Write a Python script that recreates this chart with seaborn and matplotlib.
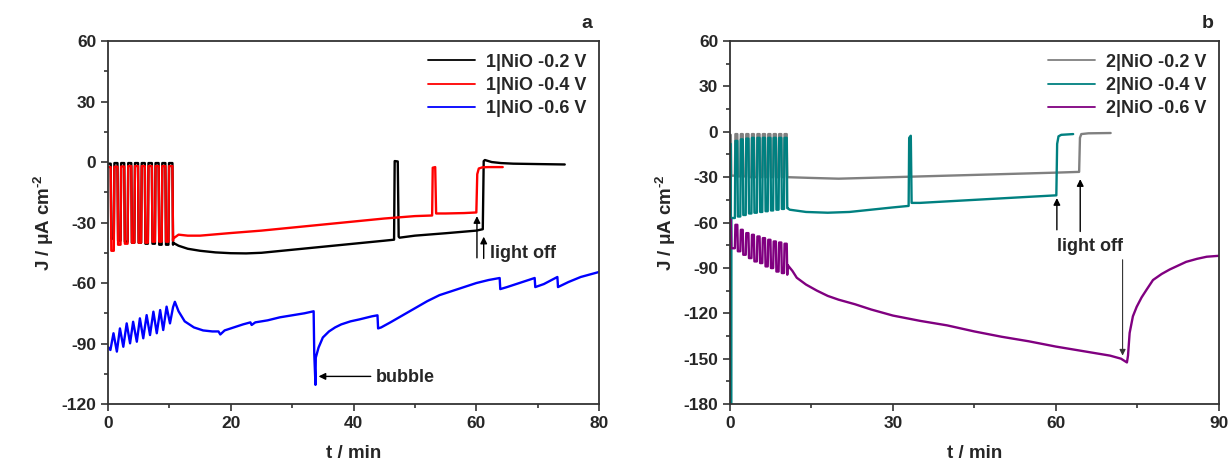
import numpy as np
import pandas as pd
import matplotlib
matplotlib.use('Agg')
import matplotlib.pyplot as plt
import seaborn as sns

# ---------------- data ----------------
# panel a: chopped-light phase (light on = fall, light off = rise), minutes
a_falls = [0.5, 1.6, 2.7, 3.85, 4.95, 6.05, 7.2, 8.3, 9.4, 10.55]
a_rises = [1.0, 2.1, 3.25, 4.35, 5.45, 6.55, 7.7, 8.8, 9.9]

black_tops = [-0.8, -0.5, -0.5, -0.5, -0.5, -0.5, -0.5, -0.5, -0.5, -0.5]
black_bots = [-38, -39, -39.5, -40, -40, -40.5, -40.5, -41, -41, -41]
red_tops = [-2.5, -2.3, -2.2, -2.0, -2.0, -2.0, -2.0, -2.0, -2.0, -2.0]
red_bots = [-44, -41, -40.5, -40, -40, -40, -39.5, -39.5, -39.5, -39]

black_t = [10.6, 11.5, 13, 15, 17.5, 20, 22.5, 25, 30, 35, 40, 45, 46.6, 46.7,
           47.2, 47.35, 47.5, 50, 55, 60, 61.05, 61.2, 61.4, 62.5, 64, 66, 70, 74.4]
black_J = [-40, -41.5, -43, -44, -44.8, -45.2, -45.3, -45, -43.5, -42, -40.5, -39,
           -38.5, 0.5, 0.3, -37, -37.5, -36.5, -35.3, -34, -33.3, 0.5, 1.0, 0, -0.5,
           -0.8, -1.0, -1.2]

red_t = [10.6, 11.5, 13, 15, 20, 25, 30, 35, 40, 45, 50, 52.8, 52.9, 53.3, 53.45,
         55, 58, 60.0, 60.15, 60.4, 61, 62, 64.3]
red_J = [-38, -36, -36.5, -36.5, -35.2, -34, -32.5, -31, -29.5, -28, -26.8, -26.5,
         -2.8, -2.5, -25.5, -25.5, -25.3, -25, -6, -3.2, -2.6, -2.5, -2.5]

blue_t = [0.0, 0.4, 0.9, 1.45, 1.95, 2.5, 3.05, 3.6, 4.1, 4.7, 5.2, 5.75, 6.3,
          6.85, 7.4, 7.95, 8.5, 9.0, 9.55, 10.1, 10.6, 10.9, 11.5, 12.5, 14, 15.5,
          17, 18, 18.3, 19, 20, 22, 23.2, 23.4, 24, 26, 28, 30, 32, 33.5, 33.6,
          33.8, 33.85, 34.3, 35, 36, 37, 38, 39.5, 41, 43, 43.9, 44.0, 44.5, 46,
          48, 50, 52, 54, 56, 58, 60, 62, 63.8, 63.9, 65, 67, 69.5, 69.6, 71,
          73.2, 73.3, 75, 77, 80]
blue_J = [-91.7, -93.2, -84.9, -94, -82.5, -91.6, -80, -89.9, -79.2, -89.1,
          -77.5, -87.4, -75.9, -85.8, -74.2, -84.9, -73.4, -83.3, -71.7, -80,
          -72, -69.3, -74, -79, -82, -83.5, -84, -84, -85.5, -83.5, -82.5,
          -80.5, -79.5, -80.8, -79.5, -78.5, -77, -76, -75, -74, -95, -110.5,
          -97, -92, -87, -84, -82, -80.5, -79, -78, -76.5, -76, -82.5, -82,
          -79.5, -76, -72.5, -69, -66, -64, -62, -60, -58.5, -57.5, -63, -62,
          -60, -57.5, -62, -60.5, -57, -62, -59.5, -57, -54.5]

# panel b: chopped-light phase
b_falls = [0.2, 1.4, 2.4, 3.45, 4.45, 5.5, 6.5, 7.5, 8.5, 9.5, 10.5]
b_rises = [0.95, 1.95, 2.95, 4.0, 5.0, 6.0, 7.0, 8.0, 9.0, 10.0]

gray_tops = [-2, -1.5, -1.5, -1.5, -1.5, -1.5, -1.5, -1.5, -1.5, -1.5, -1.5]
gray_bots = [-29, -29.5, -29.5, -30, -30, -30, -30, -30, -30, -30, -30]
teal_tops = [-8, -6, -5, -4.5, -4, -4, -4, -4, -4, -4, -4]
teal_bots = [-57, -56, -55, -54, -53.5, -53, -52.5, -52, -51.5, -51, -50.5]
purple_tops = [-58, -61.5, -64.8, -67, -68.1, -69.2, -70.3, -71.4, -72.5, -73.2, -74]
purple_bots = [-77, -79, -81.3, -83.5, -85.7, -86.8, -89, -90.1, -92.4, -93.4, -94.5]

teal_spike_t = [0.2]
teal_spike_J = [-186]

gray_t = [10.6, 15, 20, 25, 30, 35, 40, 45, 50, 55, 60, 64.3, 64.45, 64.7, 66, 70.1]
gray_J = [-30, -30.5, -31, -30.5, -30, -29.5, -29, -28.5, -28, -27.5, -27, -26.5,
          -4, -1.5, -1.0, -0.8]

teal_t = [10.6, 11, 12, 14, 18, 22, 26, 30, 32.9, 33.0, 33.3, 33.45, 35, 40, 45,
          50, 55, 60.1, 60.25, 60.5, 61, 63.2]
teal_J = [-50.5, -51.5, -52, -53, -53.5, -53, -51.5, -50, -49, -4, -2.6, -47,
          -47, -46, -45, -44, -43, -42, -8, -3, -2, -1.5]

purple_t = [10.6, 11.5, 12.3, 14, 16, 18, 20, 23, 26, 30, 35, 40, 45, 50, 55, 60,
            65, 70, 72, 73.1, 73.3, 73.6, 74.2, 74.9, 75.8, 76.7, 77.9, 79.5, 81,
            82.5, 84, 86, 87.8, 90]
purple_J = [-88, -92, -96.5, -101, -105, -108.5, -111, -114, -117.5, -121.5, -125,
            -128, -132, -135.5, -138.5, -142, -145, -148, -150, -152.5, -148, -133,
            -122, -115.7, -109.5, -104.5, -98, -94, -91, -88.5, -86, -84, -82.6, -82]

labels_a = ['1|NiO -0.2 V', '1|NiO -0.4 V', '1|NiO -0.6 V']
labels_b = ['2|NiO -0.2 V', '2|NiO -0.4 V', '2|NiO -0.6 V']
colors_a = ['#000000', '#ff0000', '#0000ff']
colors_b = ['#808080', '#008080', '#800080']


def chop_path(falls, rises, tops, bots, w=0.05):
    # step path through the read top/bottom levels of each light cycle
    t, j = [0.0], [tops[0]]
    for k, tf in enumerate(falls):
        t += [tf - w, tf + w]
        j += [tops[k], bots[k]]
        if k < len(rises):
            t += [rises[k] - w, rises[k] + w]
            j += [bots[k], tops[k + 1]]
    return t, j


def series(label, t, j):
    return pd.DataFrame({'t': t, 'J': j, 'series': label})


bt, bj = chop_path(a_falls, a_rises, black_tops, black_bots)
rt, rj = chop_path(a_falls, a_rises, red_tops, red_bots)
df_a = pd.concat([
    series(labels_a[0], bt + black_t, bj + black_J),
    series(labels_a[1], rt + red_t, rj + red_J),
    series(labels_a[2], blue_t, blue_J),
], ignore_index=True)

gt, gj = chop_path(b_falls, b_rises, gray_tops, gray_bots)
tt, tj = chop_path(b_falls, b_rises, teal_tops, teal_bots)
pt, pj = chop_path(b_falls, b_rises, purple_tops, purple_bots)
teal_df = series(labels_b[1], tt + teal_spike_t + teal_t, tj + teal_spike_J + teal_J)
teal_df = teal_df.sort_values('t')
df_b = pd.concat([
    series(labels_b[0], gt + gray_t, gj + gray_J),
    teal_df,
    series(labels_b[2], pt + purple_t, pj + purple_J),
], ignore_index=True)

# ---------------- style ----------------
sns.set_style('ticks')
plt.rcParams['font.family'] = ['Liberation Sans', 'DejaVu Sans']
plt.rcParams['font.weight'] = 'bold'
plt.rcParams['axes.labelweight'] = 'bold'
plt.rcParams['axes.unicode_minus'] = False
plt.rcParams['mathtext.fontset'] = 'custom'
plt.rcParams['mathtext.rm'] = 'Liberation Sans:bold'
plt.rcParams['mathtext.bf'] = 'Liberation Sans:bold'
plt.rcParams['mathtext.default'] = 'bf'

fig = plt.figure(figsize=(12.31, 4.72), dpi=100)
ax_a = fig.add_axes([0.0877, 0.144, 0.399, 0.769])
ax_b = fig.add_axes([0.593, 0.144, 0.397, 0.769])

for ax, df, labels, colors in [(ax_a, df_a, labels_a, colors_a),
                               (ax_b, df_b, labels_b, colors_b)]:
    sns.lineplot(data=df, x='t', y='J', hue='series', hue_order=labels,
                 palette=dict(zip(labels, colors)), estimator=None, sort=False,
                 linewidth=1.7, ax=ax)
    ax.legend(loc='upper right', frameon=False, fontsize=13, handlelength=2.6,
              borderaxespad=0.3, labelspacing=0.35, handletextpad=0.6)
    for line in ax.get_legend().get_lines():
        line.set_linewidth(1.3)
    for s in ax.spines.values():
        s.set_visible(True)
        s.set_linewidth(1.3)
        s.set_color('#333333')
    ax.tick_params(which='both', direction='out', top=False, right=False,
                   color='#333333', width=1.2, labelsize=12.5)
    ax.tick_params(which='major', length=5)
    ax.tick_params(which='minor', length=3)
    ax.set_xlabel('t / min', fontsize=13.5, labelpad=10)
    ax.set_ylabel(r'J / μA cm$^{\text{-}2}$', fontsize=13.5, labelpad=4)
    for lab in ax.get_xticklabels() + ax.get_yticklabels():
        lab.set_fontweight('bold')

ax_a.set_xlim(0, 80)
ax_a.set_ylim(-120, 60)
ax_a.set_xticks(np.arange(0, 81, 20))
ax_a.set_xticks(np.arange(0, 81, 10), minor=True)
ax_a.set_yticks(np.arange(-120, 61, 30))
ax_a.set_yticks(np.arange(-120, 61, 15), minor=True)

ax_b.set_xlim(0, 90)
ax_b.set_ylim(-180, 60)
ax_b.set_xticks(np.arange(0, 91, 30))
ax_b.set_xticks(np.arange(0, 91, 15), minor=True)
ax_b.set_yticks(np.arange(-180, 61, 30))
ax_b.set_yticks(np.arange(-180, 61, 15), minor=True)

arrow = dict(arrowstyle='-|>', color='black', lw=1.0, mutation_scale=10,
             shrinkA=0, shrinkB=0)

# panel a annotations
ax_a.annotate('', xy=(60.1, -26.8), xytext=(60.1, -47.5), arrowprops=arrow)
ax_a.annotate('', xy=(61.2, -37), xytext=(61.2, -47.8), arrowprops=arrow)
ax_a.text(62.3, -45.5, 'light off', fontsize=13, fontweight='bold', va='center')
ax_a.annotate('', xy=(34.3, -106.3), xytext=(42.8, -106.3), arrowprops=arrow)
ax_a.text(43.6, -107, 'bubble', fontsize=13, fontweight='bold', va='center')
ax_a.text(0.985, 1.025, 'a', transform=ax_a.transAxes, fontsize=14,
          fontweight='bold', ha='right', va='bottom')

# panel b annotations
ax_b.annotate('', xy=(60.2, -43.8), xytext=(60.2, -64.8), arrowprops=arrow)
ax_b.annotate('', xy=(64.5, -31.3), xytext=(64.5, -65.9), arrowprops=arrow)
ax_b.annotate('', xy=(72.3, -148), xytext=(72.3, -84.6),
              arrowprops=dict(arrowstyle='-|>', color='#333333', lw=0.8,
                              mutation_scale=9, shrinkA=0, shrinkB=0))
ax_b.text(66.3, -76, 'light off', fontsize=13, fontweight='bold',
          ha='center', va='center')
ax_b.text(0.99, 1.025, 'b', transform=ax_b.transAxes, fontsize=14,
          fontweight='bold', ha='right', va='bottom')

fig.savefig('out.png', dpi=100)
